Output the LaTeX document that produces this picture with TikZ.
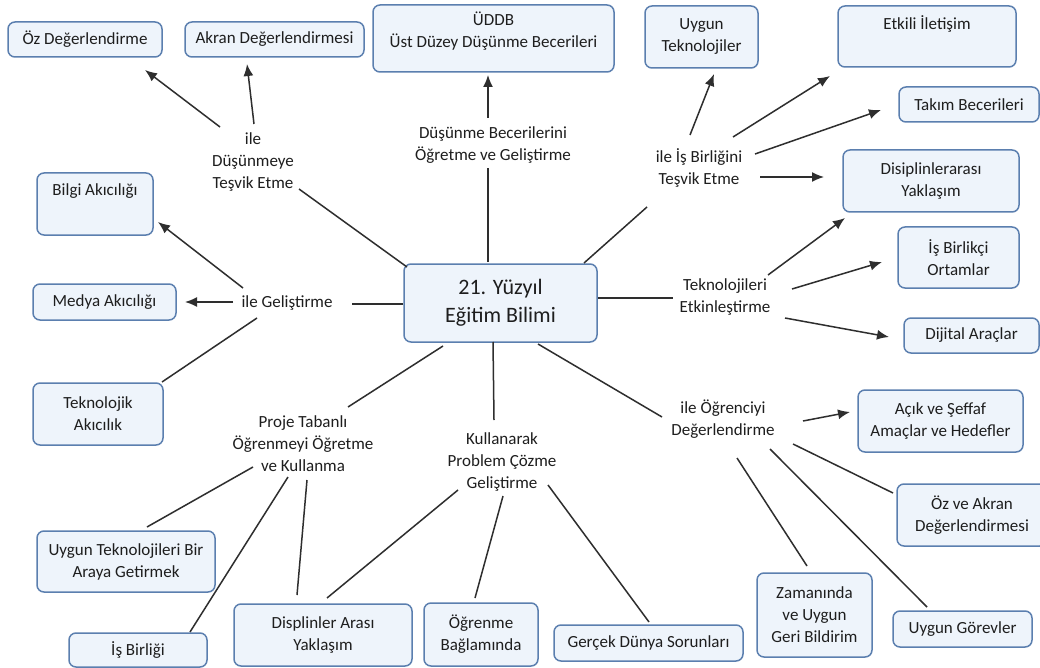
\documentclass[tikz,border=0pt]{standalone}
\usepackage{fontspec}
\setmainfont{Carlito}
\usetikzlibrary{arrows.meta}
\definecolor{boxfill}{HTML}{EEF4FB}
\definecolor{boxline}{HTML}{5B7FAF}
\definecolor{ink}{HTML}{1E1E1E}
\definecolor{wirec}{HTML}{2E2E2E}
\begin{document}
\begin{tikzpicture}[x=1pt,y=-1pt,
  box/.style={draw=boxline, fill=boxfill, line width=1.5pt, rounded corners=7pt, align=center, text=ink, inner sep=0pt, font=\fontsize{17}{22}\selectfont},
  lab/.style={align=center, text=ink, inner sep=0pt, font=\fontsize{17}{22}\selectfont},
  wire/.style={draw=wirec, line width=1.5pt},
  arr/.style={wire, -{Latex[length=12pt,width=10pt]}}]
\useasboundingbox (0,0) rectangle (1040,668);
\fill[white] (0,0) rectangle (1040,668);
\clip (0,0) rectangle (1040,668);

% boxes
\node[box, minimum width=154pt, minimum height=35pt] (oz) at (85,39.5) {Öz Değerlendirme};
\node[box, minimum width=179pt, minimum height=35pt] (akran) at (274.5,39.5) {Akran Değerlendirmesi};
\node[box, minimum width=241pt, minimum height=67pt] (uddb) at (493.5,38.5) {ÜDDB\\Üst Düzey Düşünme Becerileri\\[-4pt]};
\node[box, minimum width=113pt, minimum height=62pt] (uygtek) at (701.5,37) {Uygun\\Teknolojiler};
\node[box, minimum width=178pt, minimum height=61pt] (etkili) at (927,36.5) {Etkili İletişim\\\strut};
\node[box, minimum width=140pt, minimum height=35pt] (takim) at (969,104.5) {Takım Becerileri};
\node[box, minimum width=176pt, minimum height=62pt] (disip) at (931,181) {Disiplinlerarası\\Yaklaşım};
\node[box, minimum width=121pt, minimum height=61pt] (isbirlikci) at (958.5,257.5) {İş Birlikçi\\Ortamlar};
\node[box, minimum width=135pt, minimum height=35pt] (dijital) at (971.5,335.5) {Dijital Araçlar};
\node[box, minimum width=193pt, minimum height=78pt, font=\fontsize{22}{28}\selectfont] (ctr) at (500.5,303) {21. Yüzyıl\\Eğitim Bilimi};
\node[box, minimum width=116pt, minimum height=62pt] (bilgi) at (95,204) {Bilgi Akıcılığı\\\strut};
\node[box, minimum width=143pt, minimum height=36pt] (medya) at (104.5,302) {Medya Akıcılığı};
\node[box, minimum width=130pt, minimum height=62pt] (teknolojik) at (98,414) {Teknolojik\\Akıcılık};
\node[box, minimum width=178pt, minimum height=61pt] (uygunbir) at (126,561.5) {Uygun Teknolojileri Bir\\Araya Getirmek};
\node[box, minimum width=138pt, minimum height=34pt] (isbirligi) at (138,650) {İş Birliği};
\node[box, minimum width=178pt, minimum height=62pt] (displinler) at (323,635) {Displinler Arası\\Yaklaşım};
\node[box, minimum width=114pt, minimum height=63pt] (ogrenme) at (481,634.5) {Öğrenme\\Bağlamında};
\node[box, minimum width=189pt, minimum height=36pt] (gercek) at (648.5,643) {Gerçek Dünya Sorunları};
\node[box, minimum width=115pt, minimum height=84pt] (zamaninda) at (814.5,615) {Zamanında\\ve Uygun\\Geri Bildirim};
\node[box, minimum width=139pt, minimum height=36pt] (uyggorev) at (962.5,629) {Uygun Görevler};
\node[box, minimum width=150pt, minimum height=62pt] (ozakran) at (972,515) {Öz ve Akran\\Değerlendirmesi};
\node[box, minimum width=165pt, minimum height=62pt] (acik) at (940.5,421) {Açık ve Şeffaf\\Amaçlar ve Hedefler};

% labels
\node[lab] (l1) at (253,162) {ile\\Düşünmeye\\Teşvik Etme};
\node[lab] (l2) at (493,145) {Düşünme Becerilerini\\Öğretme ve Geliştirme};
\node[lab] (l3) at (699,168) {ile İş Birliğini\\Teşvik Etme};
\node[lab] (l4) at (287,303) {ile Geliştirme};
\node[lab] (l5) at (725,297.5) {Teknolojileri\\Etkinleştirme};
\node[lab] (l6) at (303,444) {Proje Tabanlı\\Öğrenmeyi Öğretme\\ve Kullanma};
\node[lab] (l7) at (502,462) {Kullanarak\\Problem Çözme\\Geliştirme};
\node[lab] (l8) at (723,419.5) {ile Öğrenciyi\\Değerlendirme};

% connector end points
\coordinate (c1a) at (407,267); \coordinate (c1b) at (299,189);
\coordinate (c2a) at (488,262); \coordinate (c2b) at (488,168);
\coordinate (c3a) at (584,263); \coordinate (c3b) at (647,207);
\coordinate (c4a) at (403,304); \coordinate (c4b) at (352,304);
\coordinate (c5a) at (598,298); \coordinate (c5b) at (673,298);
\coordinate (c6a) at (443,346); \coordinate (c6b) at (348,407);
\coordinate (c7a) at (493,342); \coordinate (c7b) at (494,420);
\coordinate (c8a) at (538,344); \coordinate (c8b) at (662,417);

\coordinate (p1a) at (220,127); \coordinate (p1b) at (145,70);
\coordinate (p2a) at (254,124); \coordinate (p2b) at (247,64);
\coordinate (p3a) at (488,118); \coordinate (p3b) at (488,75);
\coordinate (p4a) at (690,135); \coordinate (p4b) at (714,74);
\coordinate (p5a) at (733,137); \coordinate (p5b) at (830,76);
\coordinate (p6a) at (755,154); \coordinate (p6b) at (881,110);
\coordinate (p7a) at (760,177); \coordinate (p7b) at (824,177);
\coordinate (p8a) at (768,275); \coordinate (p8b) at (845,218);
\coordinate (p9a) at (792,289); \coordinate (p9b) at (882,262);
\coordinate (p10a) at (785,318); \coordinate (p10b) at (889,337);
\coordinate (p11a) at (803,421); \coordinate (p11b) at (850,412);
\coordinate (q1a) at (793,444); \coordinate (q1b) at (893,493);
\coordinate (q2a) at (770,449); \coordinate (q2b) at (927,607);
\coordinate (q3a) at (737,458); \coordinate (q3b) at (807,566);
\coordinate (q4a) at (458,490); \coordinate (q4b) at (327,598);
\coordinate (q5a) at (503,496); \coordinate (q5b) at (475,598);
\coordinate (q6a) at (548,485); \coordinate (q6b) at (649,622);
\coordinate (q7a) at (253,467); \coordinate (q7b) at (147,527);
\coordinate (q8a) at (288,477); \coordinate (q8b) at (190,632);
\coordinate (q9a) at (307,480); \coordinate (q9b) at (297,595);
\coordinate (p12a) at (243,288); \coordinate (p12b) at (158,222);
\coordinate (p13a) at (233,302); \coordinate (p13b) at (185,302);
\coordinate (q10a) at (257,318); \coordinate (q10b) at (162,382);

% center to labels
\foreach \n in {c1,c2,c3,c4,c5,c6,c7,c8} \draw[wire] (\n a) -- (\n b);
% arrows
\foreach \n in {p1,p2,p3,p4,p5,p6,p7,p8,p9,p10,p11,p12,p13} \draw[arr] (\n a) -- (\n b);
% plain lines
\foreach \n in {q1,q2,q3,q4,q5,q6,q7,q8,q9,q10} \draw[wire] (\n a) -- (\n b);
\end{tikzpicture}
\end{document}
